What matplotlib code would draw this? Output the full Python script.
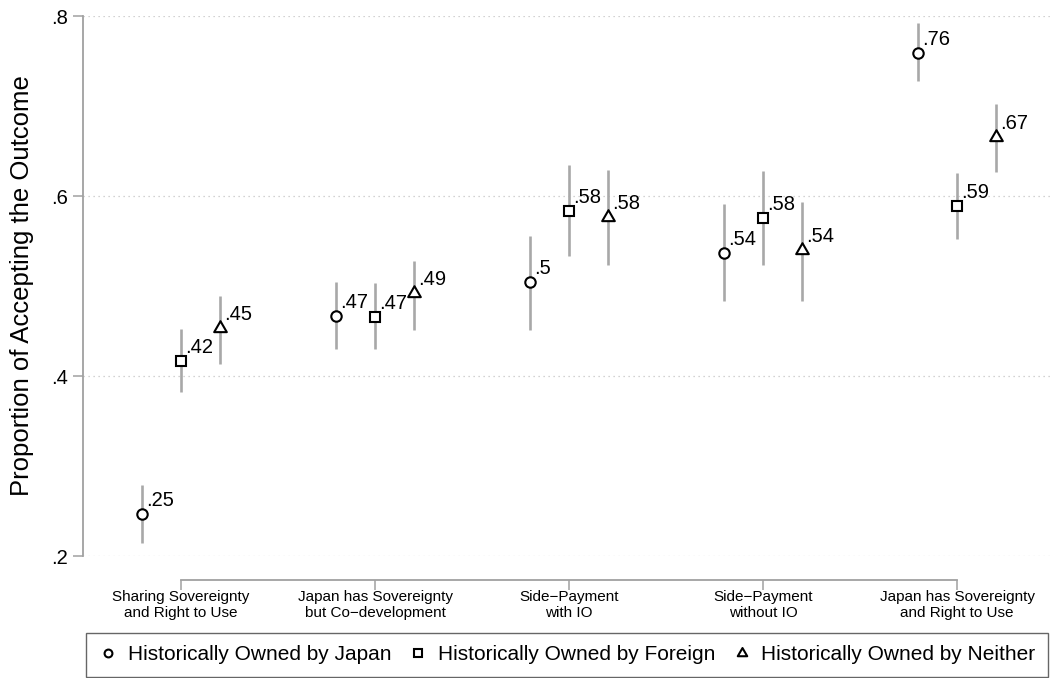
import numpy as np
import matplotlib
matplotlib.use("Agg")
from matplotlib import pyplot as plt
from matplotlib.path import Path

plt.rcParams['font.family'] = ['Liberation Sans', 'DejaVu Sans']

categories = ["Sharing Sovereignty\nand Right to Use",
              "Japan has Sovereignty\nbut Co\u2212development",
              "Side\u2212Payment\nwith IO",
              "Side\u2212Payment\nwithout IO",
              "Japan has Sovereignty\nand Right to Use"]

series_names = ["Historically Owned by Japan",
                "Historically Owned by Foreign",
                "Historically Owned by Neither"]

# point estimates and confidence bounds, one list per series
japan = [0.247, 0.467, 0.504, 0.537, 0.759]
japan_lo = [0.215, 0.430, 0.451, 0.483, 0.728]
japan_hi = [0.279, 0.504, 0.556, 0.591, 0.792]

foreign = [0.417, 0.466, 0.583, 0.576, 0.589]
foreign_lo = [0.382, 0.430, 0.533, 0.523, 0.552]
foreign_hi = [0.452, 0.503, 0.634, 0.628, 0.626]

neither = [0.453, 0.492, 0.577, 0.540, 0.666]
neither_lo = [0.413, 0.451, 0.523, 0.483, 0.627]
neither_hi = [0.489, 0.528, 0.629, 0.593, 0.702]

yticks = [0.2, 0.4, 0.6, 0.8]

tri = Path([(-1, -0.577), (1, -0.577), (0, 1.155), (-1, -0.577)],
           [Path.MOVETO, Path.LINETO, Path.LINETO, Path.CLOSEPOLY])
markers = ['o', 's', tri]
msizes = [7.5, 7.5, 10.5]
offsets = [-0.2, 0.0, 0.2]


def fmt(v):
    s = f"{round(v, 2):g}"
    return s.lstrip('0')


fig = plt.figure(figsize=(10.53, 6.78), dpi=100)
ax = fig.add_axes([83 / 1053, 1 - 556 / 678, (1050 - 83) / 1053, 540 / 678])

x = np.arange(len(categories))
allseries = [(japan, japan_lo, japan_hi), (foreign, foreign_lo, foreign_hi),
             (neither, neither_lo, neither_hi)]
handles = []
for (vals, lo, hi), mk, ms, off, name in zip(allseries, markers, msizes, offsets, series_names):
    xs = x + off
    ax.vlines(xs, lo, hi, color='#a8a8a8', lw=1.9, zorder=2)
    h, = ax.plot(xs, vals, linestyle='none', marker=mk, markersize=ms,
                 markerfacecolor='white', markeredgecolor='black',
                 markeredgewidth=1.5, zorder=3, label=name)
    handles.append(h)
    for xi, v in zip(xs, vals):
        ax.annotate(fmt(v), (xi, v), xytext=(4, 8), textcoords='offset pixels',
                    ha='left', va='baseline', fontsize=14.5, color='black', zorder=4)

ax.set_xlim(-0.505, 4.479)
ax.set_ylim(0.2, 0.8)
ax.set_yticks(yticks)
ax.set_yticklabels([fmt(t) for t in yticks])
ax.set_xticks(x)
ax.set_xticklabels(categories)

for t in yticks:
    ax.axhline(t, color='#c4c4c4', lw=0.9, linestyle=(0, (1, 3)), zorder=1)

ax.spines['top'].set_visible(False)
ax.spines['right'].set_visible(False)
ax.spines['left'].set_color('#a0a0a0')
ax.spines['left'].set_linewidth(1.3)
ax.spines['bottom'].set_color('#a0a0a0')
ax.spines['bottom'].set_linewidth(1.3)
ax.spines['bottom'].set_position(('outward', 17))
ax.spines['bottom'].set_bounds(0, 4)
ax.tick_params(axis='y', length=7, width=1.1, color='#a0a0a0', labelsize=14.5, pad=4)
ax.tick_params(axis='x', length=7, width=1.1, color='#a0a0a0', labelsize=11, pad=0.8)
for lab in ax.get_xticklabels():
    lab.set_linespacing(1.1)

ax.set_ylabel("Proportion of Accepting the Outcome", fontsize=18.5)
ax.yaxis.set_label_coords(34 / 1053, 1 - 286 / 678, transform=fig.transFigure)

leg = fig.legend(handles=handles, labels=series_names, loc='lower left',
                 bbox_to_anchor=(86 / 1053, 1 / 678, 962 / 1053, 44 / 678),
                 mode='expand', ncol=3, fontsize=15, frameon=True, fancybox=False,
                 edgecolor='#404040', borderaxespad=0, handlelength=0.9,
                 handletextpad=0.5, borderpad=0.6, markerscale=0.75)
leg.get_frame().set_linewidth(1.0)

fig.savefig("out.png", dpi=100)
